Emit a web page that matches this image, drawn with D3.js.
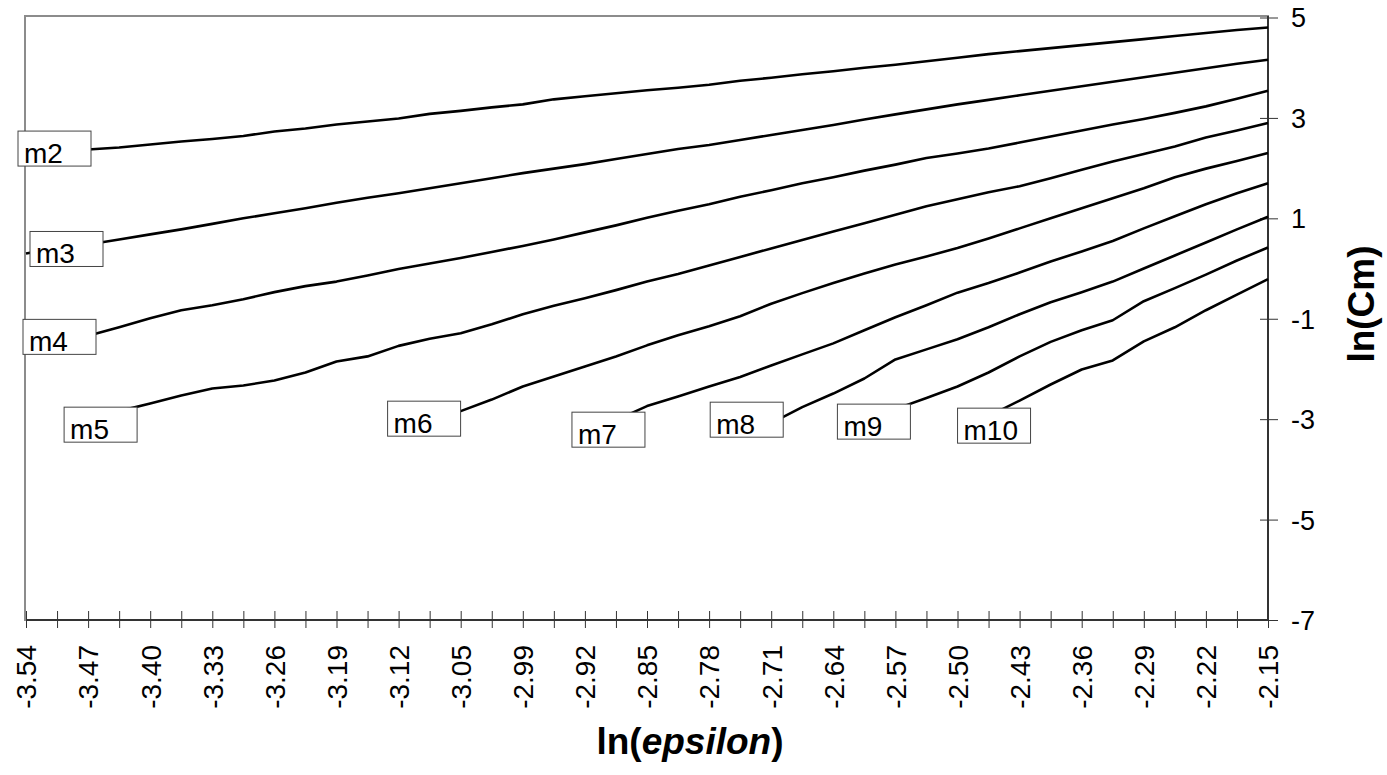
<!DOCTYPE html>
<html>
<head>
<meta charset="utf-8">
<script src="https://cdn.jsdelivr.net/npm/d3@7"></script>
<style>
  body { margin: 0; background: #fff; }
  svg { display: block; font-family: Arial, 'Liberation Sans', sans-serif; }
  .tick text { fill: #000; }
</style>
</head>
<body>
<div id="chart"></div>
<script>
// x categories: 41 points, only every 2nd one carries a label
const tickLabels = ['-3.54', '-3.47', '-3.40', '-3.33', '-3.26', '-3.19', '-3.12', '-3.05', '-2.99', '-2.92',
  '-2.85', '-2.78', '-2.71', '-2.64', '-2.57', '-2.50', '-2.43', '-2.36', '-2.29', '-2.22', '-2.15'];
const nCats = 41;
const yTicks = [5, 3, 1, -1, -3, -5, -7];

// leading empty categories for series that start later
const lead = n => Array(n).fill(null);

const m2 = [2.26, 2.32, 2.37, 2.41, 2.47, 2.53, 2.58, 2.64, 2.73, 2.79, 2.87, 2.93, 2.99, 3.08, 3.14, 3.21, 3.27,
  3.37, 3.43, 3.49, 3.55, 3.60, 3.66, 3.74, 3.80, 3.87, 3.93, 4.00, 4.06, 4.13, 4.20, 4.27, 4.33, 4.39, 4.45,
  4.51, 4.57, 4.63, 4.69, 4.75, 4.80];
const m3 = [0.30, 0.41, 0.48, 0.58, 0.68, 0.78, 0.89, 1.00, 1.10, 1.20, 1.31, 1.41, 1.50, 1.60, 1.70, 1.80, 1.90,
  1.99, 2.08, 2.18, 2.28, 2.38, 2.46, 2.56, 2.66, 2.76, 2.86, 2.97, 3.07, 3.17, 3.27, 3.36, 3.45, 3.54, 3.63,
  3.72, 3.81, 3.90, 3.99, 4.08, 4.16];
const m4 = [-1.57, -1.45, -1.34, -1.17, -0.99, -0.83, -0.73, -0.61, -0.47, -0.35, -0.26, -0.14, -0.01, 0.10, 0.21,
  0.33, 0.45, 0.58, 0.72, 0.86, 1.01, 1.15, 1.28, 1.43, 1.56, 1.70, 1.82, 1.95, 2.07, 2.20, 2.29, 2.39, 2.51,
  2.63, 2.75, 2.87, 2.98, 3.10, 3.23, 3.38, 3.54];
const m5 = [...lead(2), -2.98, -2.84, -2.69, -2.53, -2.39, -2.33, -2.23, -2.07, -1.85, -1.75, -1.54, -1.40,
  -1.29, -1.11, -0.91, -0.74, -0.59, -0.43, -0.26, -0.11, 0.06, 0.23, 0.40, 0.57, 0.74, 0.90, 1.07, 1.24, 1.38,
  1.52, 1.64, 1.80, 1.97, 2.13, 2.28, 2.43, 2.61, 2.75, 2.90];
const m6 = [...lead(12), -3.00, -2.94, -2.84, -2.61, -2.35, -2.15, -1.95, -1.75, -1.53, -1.33, -1.15, -0.95, -0.70,
  -0.49, -0.29, -0.10, 0.08, 0.24, 0.41, 0.60, 0.80, 1.00, 1.20, 1.40, 1.60, 1.82, 1.99, 2.14, 2.30];
const m7 = [...lead(19), -3.02, -2.74, -2.55, -2.35, -2.16, -1.93, -1.71, -1.49, -1.23, -0.97, -0.73, -0.48, -0.29,
  -0.08, 0.14, 0.34, 0.55, 0.80, 1.04, 1.28, 1.50, 1.70];
const m8 = [...lead(24), -3.08, -2.76, -2.49, -2.19, -1.81, -1.61, -1.41, -1.17, -0.91, -0.67, -0.47, -0.26, 0.00,
  0.26, 0.52, 0.78, 1.03];
const m9 = [...lead(28), -2.80, -2.58, -2.35, -2.07, -1.75, -1.46, -1.23, -1.03, -0.65, -0.39, -0.12, 0.16, 0.42];
const m10 = [...lead(31), -2.94, -2.63, -2.31, -2.01, -1.83, -1.45, -1.17, -0.83, -0.52, -0.21];

const series = [
  { name: 'm2', values: m2 }, { name: 'm3', values: m3 }, { name: 'm4', values: m4 },
  { name: 'm5', values: m5 }, { name: 'm6', values: m6 }, { name: 'm7', values: m7 },
  { name: 'm8', values: m8 }, { name: 'm9', values: m9 }, { name: 'm10', values: m10 }
];

// hand-placed label boxes, offset from each series' first point (px)
const labelOffsets = {
  m2: [-8, -24], m3: [4, -22], m4: [-3, -28], m5: [-24, -11], m6: [-11, -18],
  m7: [-44, -8], m8: [-61, -21], m9: [-58, -5], m10: [-31, -8]
};

const W = 1387, H = 775;
const plot = { left: 26, right: 1268, top: 17.5, bottom: 620 };

const svg = d3.select('#chart').append('svg')
  .attr('width', W).attr('height', H);

const x = d3.scalePoint()
  .domain(d3.range(nCats))
  .range([plot.left, plot.right]);

const y = d3.scaleLinear()
  .domain([-7, 5])
  .range([plot.bottom, plot.top]);

// plot area frame (grey, Excel style)
svg.append('rect')
  .attr('x', plot.left - 1).attr('y', plot.top - 1.5)
  .attr('width', plot.right - plot.left + 1).attr('height', plot.bottom - plot.top + 1.5)
  .attr('fill', 'none').attr('stroke', '#8c8c8c').attr('stroke-width', 2);

// x axis
const xAxis = svg.append('g')
  .attr('transform', `translate(0,${plot.bottom})`)
  .call(d3.axisBottom(x)
    .tickFormat(i => i % 2 === 0 ? tickLabels[i / 2] : '')
    .tickSizeOuter(0));
xAxis.select('.domain').attr('stroke', '#333').attr('stroke-width', 2)
  .attr('d', `M${plot.left},0H${plot.right}`);
xAxis.selectAll('.tick line').attr('y1', -9).attr('y2', 8).attr('stroke', '#333');
xAxis.selectAll('.tick text')
  .attr('transform', 'rotate(-90)')
  .attr('x', -25).attr('y', 0).attr('dy', '0.35em')
  .attr('text-anchor', 'end')
  .style('font-size', '28px');

// y axis on the right
const yAxis = svg.append('g')
  .attr('transform', `translate(${plot.right},0)`)
  .call(d3.axisRight(y).tickValues(yTicks).tickFormat(d => String(d)).tickSizeOuter(0));
yAxis.select('.domain').attr('stroke', '#333').attr('stroke-width', 2)
  .attr('d', `M0,${plot.top - 1.5}V${plot.bottom}`);
yAxis.selectAll('.tick line').attr('x1', -8).attr('x2', 10).attr('stroke', '#333');
yAxis.selectAll('.tick text')
  .attr('x', 23).attr('dy', '0.35em')
  .style('font-size', '27px');

// lines
const line = d3.line()
  .defined(d => d != null)
  .x((d, i) => x(i))
  .y(d => y(d));

svg.append('g').selectAll('path')
  .data(series)
  .join('path')
  .attr('fill', 'none')
  .attr('stroke', '#000')
  .attr('stroke-width', 2.6)
  .attr('stroke-linejoin', 'round')
  .attr('d', d => line(d.values));

// series labels at the start of each line
const labels = svg.append('g').selectAll('g')
  .data(series)
  .join('g')
  .attr('transform', d => {
    const i = d.values.findIndex(v => v != null);
    const [dx, dy] = labelOffsets[d.name];
    return `translate(${x(i) + dx},${y(d.values[i]) + dy})`;
  });

labels.append('rect')
  .attr('width', 73).attr('height', 35)
  .attr('fill', '#fff').attr('stroke', '#444').attr('stroke-width', 1);

labels.append('text')
  .attr('x', 6).attr('y', 32)
  .style('font-size', '28px')
  .text(d => d.name);

// axis titles
const xTitle = svg.append('text')
  .attr('x', 690).attr('y', 754)
  .attr('text-anchor', 'middle')
  .style('font-size', '37px').style('font-weight', 'bold');
xTitle.append('tspan').text('ln(');
xTitle.append('tspan').style('font-style', 'italic').text('epsilon');
xTitle.append('tspan').text(')');

svg.append('text')
  .attr('transform', 'translate(1374,304) rotate(-90)')
  .attr('text-anchor', 'middle')
  .style('font-size', '37px').style('font-weight', 'bold')
  .text('ln(Cm)');
</script>
</body>
</html>
